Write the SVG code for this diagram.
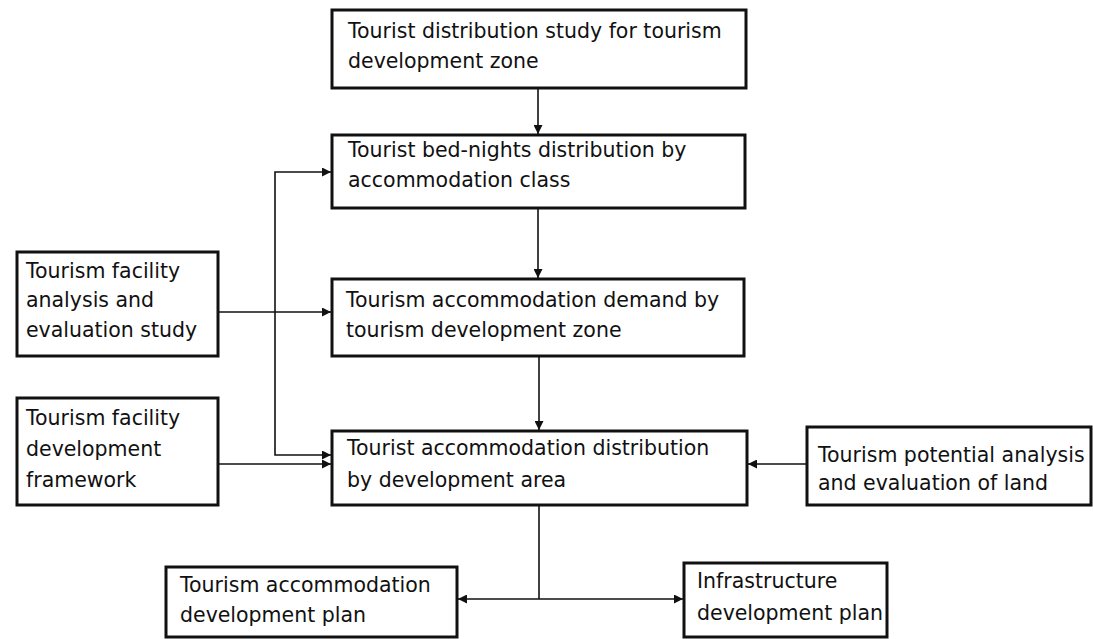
<svg xmlns="http://www.w3.org/2000/svg" width="1093" height="639" viewBox="0 0 1093 639">
<style>
.box{fill:#fff;stroke:#111;stroke-width:3}
.t{font-family:"DejaVu Sans","Liberation Sans",sans-serif;font-size:20.5px;fill:#111}
.c{fill:none;stroke:#111;stroke-width:1.6}
</style>
<defs>
<marker id="ah" viewBox="0 0 10 10" refX="10" refY="5" markerWidth="9" markerHeight="9" markerUnits="userSpaceOnUse" orient="auto-start-reverse">
<path d="M0,0 L10,5 L0,10 z" fill="#111"/>
</marker>
</defs>
<rect width="1093" height="639" fill="#fff"/>
<g id="connectors">
<path class="c" d="M538,88 V134" marker-end="url(#ah)"/>
<path class="c" d="M538,208 V278" marker-end="url(#ah)"/>
<path class="c" d="M539,356 V430" marker-end="url(#ah)"/>
<path class="c" d="M218,312 H331" marker-end="url(#ah)"/>
<path class="c" d="M331,172 H275 V455 H331" marker-start="url(#ah)" marker-end="url(#ah)"/>
<path class="c" d="M218,464 H331" marker-end="url(#ah)"/>
<path class="c" d="M807,464 H748" marker-end="url(#ah)"/>
<path class="c" d="M539,505 V599"/>
<path class="c" d="M458,599 H683" marker-start="url(#ah)" marker-end="url(#ah)"/>
</g>
<g id="n1"><rect class="box" x="332" y="10" width="414" height="78"/>
<text class="t" x="348" y="38">Tourist distribution study for tourism</text>
<text class="t" x="348" y="68">development zone</text></g>
<g id="n2"><rect class="box" x="332" y="135" width="413" height="73"/>
<text class="t" x="348" y="157">Tourist bed-nights distribution by</text>
<text class="t" x="348" y="187">accommodation class</text></g>
<g id="n3"><rect class="box" x="332" y="279" width="412" height="77"/>
<text class="t" x="346" y="307">Tourism accommodation demand by</text>
<text class="t" x="346" y="337">tourism development zone</text></g>
<g id="nA"><rect class="box" x="17" y="252" width="201" height="104"/>
<text class="t" x="26" y="278">Tourism facility</text>
<text class="t" x="26" y="307">analysis and</text>
<text class="t" x="26" y="337">evaluation study</text></g>
<g id="nB"><rect class="box" x="17" y="398" width="201" height="107"/>
<text class="t" x="26" y="425">Tourism facility</text>
<text class="t" x="26" y="456">development</text>
<text class="t" x="26" y="487">framework</text></g>
<g id="n4"><rect class="box" x="332" y="431" width="415" height="74"/>
<text class="t" x="347" y="455">Tourist accommodation distribution</text>
<text class="t" x="347" y="487">by development area</text></g>
<g id="n5"><rect class="box" x="807" y="427" width="284" height="78"/>
<text class="t" x="818" y="462">Tourism potential analysis</text>
<text class="t" x="818" y="490">and evaluation of land</text></g>
<g id="n6"><rect class="box" x="166" y="567" width="291" height="70"/>
<text class="t" x="180" y="592">Tourism accommodation</text>
<text class="t" x="180" y="622">development plan</text></g>
<g id="n7"><rect class="box" x="684" y="563" width="203" height="74"/>
<text class="t" x="697" y="588">Infrastructure</text>
<text class="t" x="697" y="620">development plan</text></g>
</svg>
